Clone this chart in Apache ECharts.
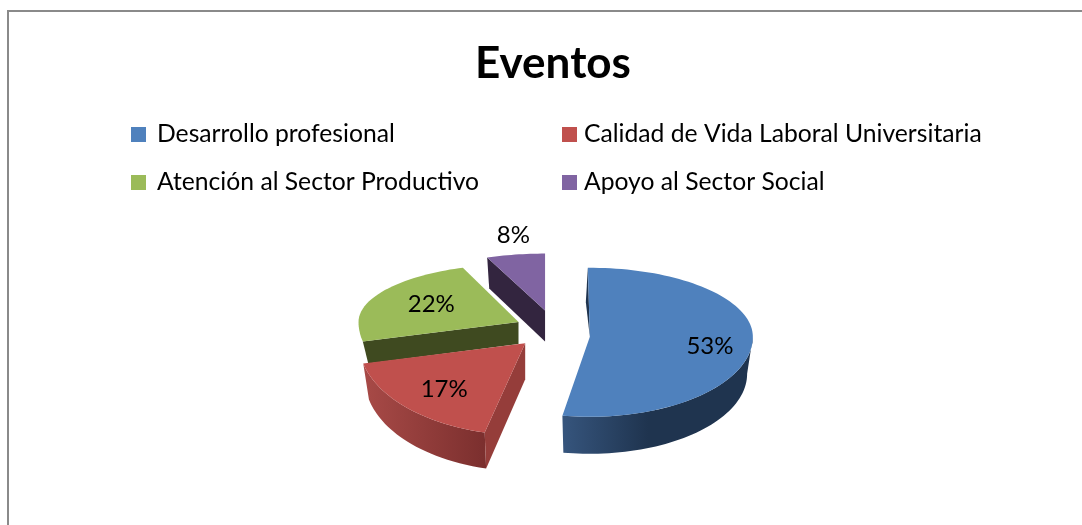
<!DOCTYPE html>
<html><head><meta charset="utf-8">
<style>html,body{margin:0;padding:0;background:#fff}#c{width:1082px;height:525px}</style>
<script src="https://cdn.jsdelivr.net/npm/echarts@6/dist/echarts.min.js"></script></head>
<body><div id="c"></div>
<script>
const titleText = 'Eventos';
const categories = ['Desarrollo profesional','Calidad de Vida Laboral Universitaria','Atención al Sector Productivo','Apoyo al Sector Social'];
const values = [53,17,22,8];
const colors = ['#4f81bd','#c0504d','#9bbb59','#8064a2'];

// drawing parameters of the tilted, exploded pie (per slice, same order as categories)
const center = {x:554, y:329};
const explode = {x:36, y:19};
const sliceDrop = [6,0,0,0];
const sliceShift = [0,-5,-2,0];
const radiusX = [163,166,160,160];
const radiusTop = [69,69,58,57];
const radiusBottom = [80,92,85,75];
const depth = [37,36,22,31];
const labelReach = [0.74,0.72,0.62,1.35];
const labelNudge = [[0,4],[11,4],[0,-1],[6,0]];
const drawOrder = [3,4,2,1];
const frontSkew = [-3,9,8,4];
const backSkew = [0,0,10,9];
const wallFront = [['#36557d','#1f344f'],['#a84a47','#7b2f2e']];
const innerWall = ['#1f344f','#953d3a','#3f4a20','#33253f'];
const rimShrink = 0.965;

const total = values.reduce((a,b)=>a+b,0);
const starts = values.map((v,i)=>values.slice(0,i).reduce((a,b)=>a+b,0)/total*360);
const rad = d=>d*Math.PI/180;
function warp(i,t){
  if(t>270&&t<360) return t+backSkew[i]*Math.sin(rad(2*(t-270)));
  if(t>180&&t<=270) return t+frontSkew[i]*Math.sin(rad(2*(t-180)));
  if(i===0&&t<90) return t-0.7*Math.cos(rad(t));
  return t;
}
function tip(i){
  const b=rad(starts[i]+values[i]/total*180);
  return [center.x+explode.x*Math.sin(b)+sliceShift[i], center.y-explode.y*Math.cos(b)+sliceDrop[i]];
}
function rim(i,t,reach){
  const w=rad(warp(i,t)), p=tip(i), c=Math.cos(w);
  const r=reach==null?1:reach;
  return [p[0]+r*radiusX[i]*Math.sin(w), p[1]-r*(c>0?radiusTop[i]:radiusBottom[i])*c];
}
function arc(i,a,b){
  const pts=[], n=Math.max(2,Math.ceil(Math.abs(b-a)/2));
  for(let k=0;k<=n;k++) pts.push(rim(i,a+(b-a)*k/n));
  return pts;
}
function lowered(i,p){
  const o=tip(i);
  return [o[0]+(p[0]-o[0])*rimShrink, p[1]+depth[i]];
}
function poly(points,fill){
  return {type:'polygon',shape:{points},style:{fill,stroke:null}};
}
function sliceItem(i){
  const a=starts[i], b=a+values[i]/total*360, o=tip(i), kids=[];
  const oLow=[o[0],o[1]+depth[i]];
  if(i===0){
    const top=rim(i,a), lo=arc(i,90,b);
    const m=[(top[0]+o[0])/2-3,(top[1]+o[1])/2];
    kids.push(poly([top,o,m],innerWall[0]));
    const low=lo.map(p=>lowered(i,p)).reverse();
    kids.push(poly(lo.concat(low),new echarts.graphic.LinearGradient(0,0,1,0,[
      {offset:0,color:wallFront[0][0]},{offset:0.45,color:wallFront[0][1]},{offset:1,color:wallFront[0][1]}])));
  } else if(i===1){
    const lo=arc(i,a,b), low=lo.map(p=>lowered(i,p)).reverse();
    kids.push(poly(lo.concat(low),new echarts.graphic.LinearGradient(1,0,0,0,[
      {offset:0,color:wallFront[1][1]},{offset:1,color:wallFront[1][0]}])));
    const c=rim(i,a);
    kids.push(poly([o,c,lowered(i,c),oLow],innerWall[1]));
  } else {
    const edge=rim(i,a);
    kids.push(poly([o,edge,lowered(i,edge),oLow],innerWall[i]));
  }
  kids.push(poly([o].concat(arc(i,a,b)),colors[i]));
  const mid=(a+b)/2, lp=rim(i,mid,labelReach[i]);
  kids.push({type:'text',style:{text:values[i]+'%',x:lp[0]+labelNudge[i][0],y:lp[1]+labelNudge[i][1],align:'center',verticalAlign:'middle',
    fill:'#000',fontFamily:'Lato',fontSize:24}});
  return {type:'group',children:kids};
}
const legendSpots=[[131,122,6],[562,122,2],[131,170,6],[562,170,2]];
const chart=echarts.init(document.getElementById('c'),null,{renderer:'canvas'});
chart.setOption({
  animation:false,
  backgroundColor:'#fff',
  title:{text:titleText,left:548,top:37,textAlign:'center',
    textStyle:{fontFamily:'Lato',fontWeight:'bold',fontSize:44,color:'#000'}},
  legend:categories.map((c,i)=>({data:[c],left:legendSpots[i][0],top:legendSpots[i][1],padding:0,
    itemWidth:15,itemHeight:15,icon:'rect',selectedMode:false,
    textStyle:{fontFamily:'Lato',fontSize:24.7,color:'#000',padding:[0,0,0,legendSpots[i][2]]}})),
  graphic:[{type:'rect',shape:{x:8,y:11,width:1300,height:900},style:{fill:null,stroke:'#8a8a8a',lineWidth:2},silent:true,z:-1}],
  series:categories.map((c,i)=>({
    type:'custom',name:c,coordinateSystem:'none',z:drawOrder[i],
    itemStyle:{color:colors[i]},
    data:[[values[i]]],
    renderItem:()=>sliceItem(i)
  }))
});
</script></body></html>
